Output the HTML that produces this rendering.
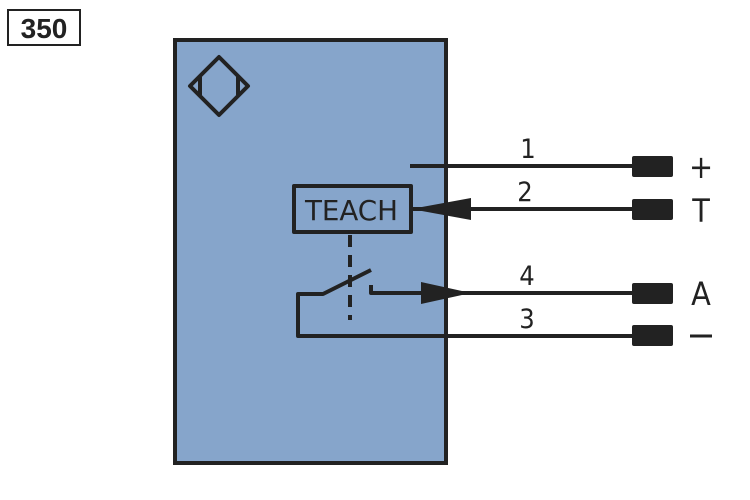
<!DOCTYPE html>
<html><head><meta charset="utf-8"><style>html,body{margin:0;padding:0;background:#fff}svg{display:block}</style></head>
<body>
<svg width="750" height="500" viewBox="0 0 750 500" xmlns="http://www.w3.org/2000/svg">
<rect x="8" y="10" width="72" height="35" fill="#fff" stroke="#222" stroke-width="2"/>
<text x="44" y="38" text-anchor="middle" font-family="Liberation Sans, sans-serif" font-weight="bold" font-size="28" fill="#222">350</text>
<rect x="175" y="40" width="271" height="423" fill="#86a5cb" stroke="#222" stroke-width="4"/>
<g stroke="#222" stroke-width="4" fill="none" stroke-linejoin="round">
<polygon points="219,57 248,86 219,115 190,86"/>
<line x1="200" y1="77" x2="200" y2="95"/>
<line x1="238" y1="77" x2="238" y2="95"/>
<rect x="294" y="186" width="117" height="46" stroke-width="4"/>
<line x1="410" y1="166" x2="635" y2="166"/>
<line x1="411" y1="209" x2="635" y2="209"/>
<line x1="350" y1="235" x2="350" y2="320" stroke-dasharray="12,8"/>
<polyline points="371,285 371,293 635,293"/>
<polyline points="371,270 323,294 298,294 298,336 635,336"/>
<line x1="690" y1="336" x2="712" y2="336" stroke-width="3"/>
</g>
<polygon points="411,209 471,198 471,220" fill="#222"/>
<polygon points="471,293 421,282 421,304" fill="#222"/>
<text x="305" y="220" textLength="93" lengthAdjust="spacingAndGlyphs" font-family="DejaVu Sans Condensed, DejaVu Sans, sans-serif" font-size="28" fill="#222">TEACH</text>
<g fill="#222">
<rect x="632" y="156" width="41" height="21" rx="2"/>
<rect x="632" y="199" width="41" height="21" rx="2"/>
<rect x="632" y="283" width="41" height="21" rx="2"/>
<rect x="632" y="325" width="41" height="21" rx="2"/>
</g>
<g font-family="DejaVu Sans Condensed, DejaVu Sans, sans-serif" font-size="27" fill="#222" text-anchor="middle">
<text x="528" y="158">1</text>
<text x="525" y="201">2</text>
<text x="527" y="285">4</text>
<text x="527" y="328">3</text>
</g>
<g font-family="DejaVu Sans Condensed, DejaVu Sans, sans-serif" font-size="32" fill="#222" text-anchor="middle">
<text x="701" y="178">+</text>
<text x="701" y="222">T</text>
<text x="701" y="305">A</text>
</g>
</svg>
</body></html>
